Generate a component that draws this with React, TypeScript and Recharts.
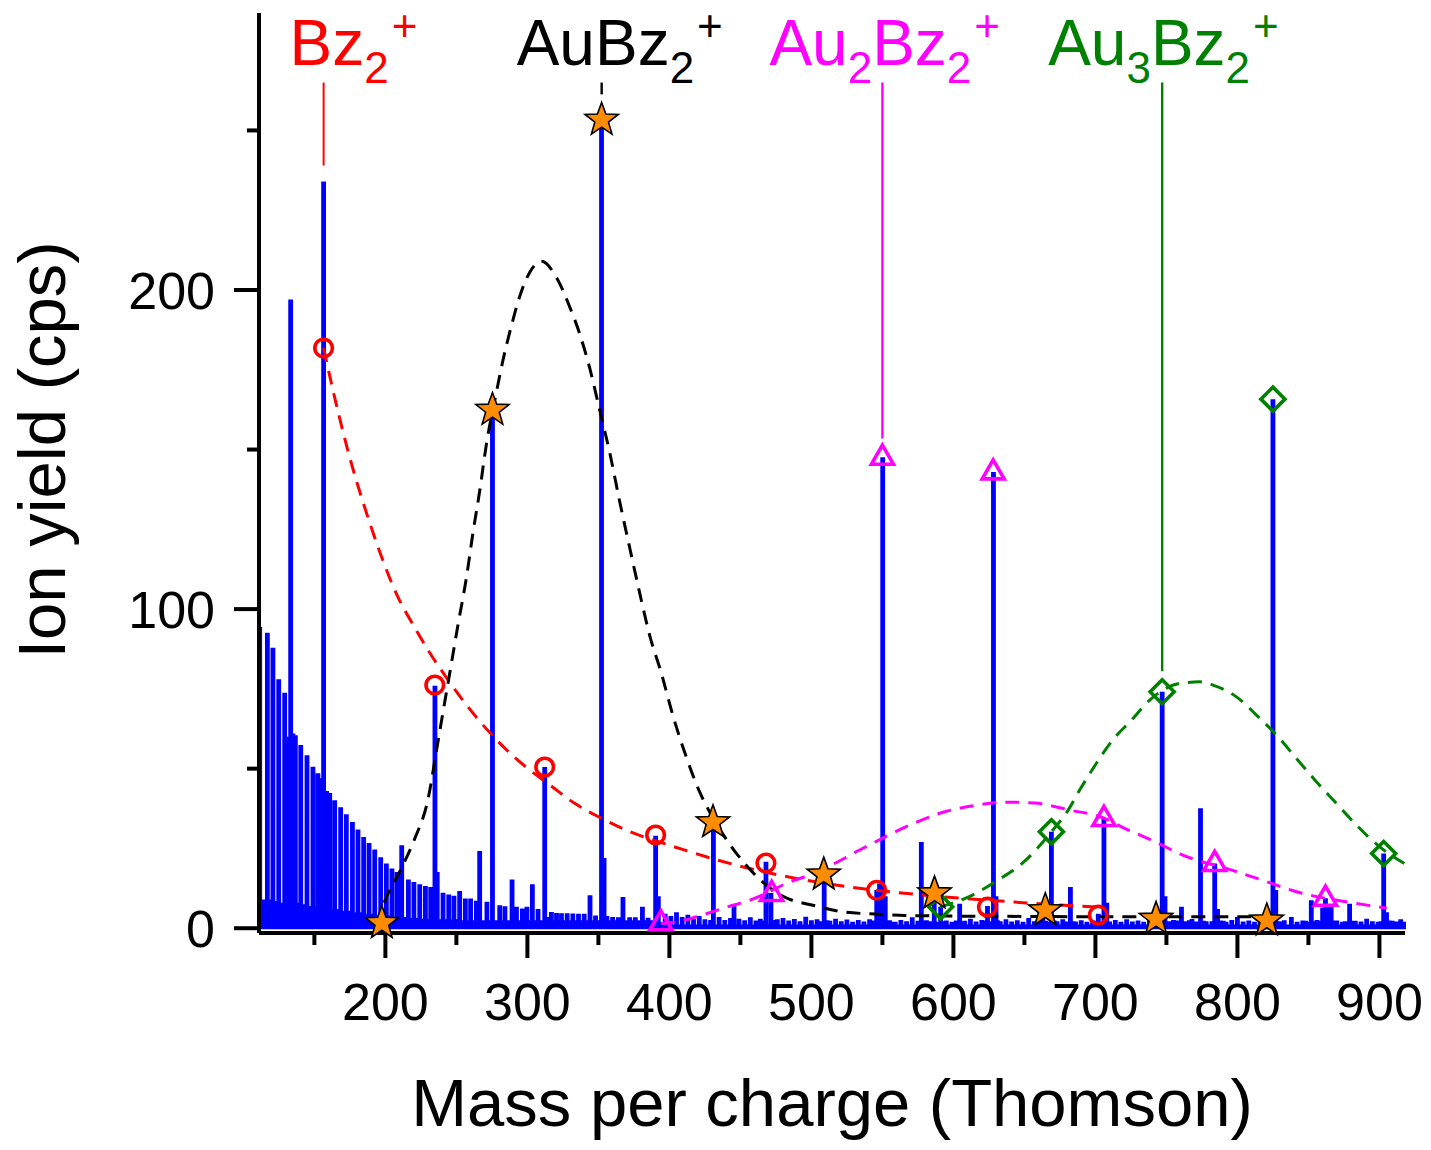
import React from 'react'
import { ComposedChart, Line, Scatter, XAxis, YAxis } from 'recharts'

const FONT = '"Liberation Sans", Arial, Helvetica, sans-serif'
const BLUE = '#0000ff'
const RED = '#ff0000'
const MAGENTA = '#ff00ff'
const GREEN = '#008000'
const ORANGE = '#ff8c00'

const xDomain: [number, number] = [111, 918]
const yDomain: [number, number] = [-1.5, 286.8]
const xTicks = [150, 200, 250, 300, 350, 400, 450, 500, 550, 600, 650, 700, 750, 800, 850, 900]
const yTicks = [0, 50, 100, 150, 200, 250]

// spectrum, picked peaks as [m/z, counts]
const combPeaks = [
  [111.5, 94.4], [116.9, 92.6], [120.8, 87.9], [124.9, 78], [129.1, 73.8], [133.3, 197],
  [136.6, 60.5], [140.4, 57.4], [144.8, 54.2], [149, 50.6], [152.5, 48.6], [156.5, 234],
  [160.8, 42.4], [164.3, 40.1], [168.5, 37.9], [172.5, 35.7], [176.8, 33.3], [180.7, 30.9],
  [184.7, 28.6], [188.5, 26.7], [192.5, 24.7], [196.7, 22.2], [200.7, 20.3], [204.6, 18.7],
  [208.2, 17.6], [211.5, 26], [216.2, 15.3], [220.1, 14.5], [224.2, 13.8], [228.2, 13.2],
  [231.9, 12.9], [234.9, 76], [240.6, 11.1], [244.6, 10.6], [248.3, 10.2], [252.3, 11.7],
  [256.3, 9.3], [260, 9.3], [264.1, 8.6], [266.4, 24.2], [271.5, 8.3], [275.4, 162.4],
  [280.5, 7.2], [284.2, 6.9], [289.2, 15.3], [292.3, 6.7], [296.5, 6.2], [299.7, 6.7],
  [303.5, 13.8], [307.5, 6], [312.2, 50.5], [316.9, 5.1], [320.5, 4.8], [324, 4.7],
  [328, 4.7], [332, 4.6], [336, 4.5], [340, 4.5], [344.1, 10.3], [348, 4], [352.2, 253],
  [356, 3.8], [360, 3.5], [364, 3.4], [367.3, 9.8], [372, 3.4], [376, 3.4], [381, 6.7],
  [385, 3.3], [390.3, 29],
]

const shoulderPeaks = [
  [114.2, 9], [118.9, 9], [122.9, 8.5], [127, 8], [131.2, 60], [134.9, 61], [138.5, 8],
  [142.6, 7.5], [146.9, 7], [150.8, 7], [154.5, 47], [158.6, 43], [162.6, 6], [166.4, 6],
  [170.5, 5.5], [174.6, 5.5], [178.8, 5], [182.7, 5], [186.6, 4.5], [190.5, 4.5], [194.6, 4],
  [198.7, 4], [202.6, 4], [206.4, 3.5], [210, 3.5], [214, 3.5], [218.2, 3.2], [222.1, 3.2],
  [226.2, 3], [230, 3], [236.5, 17.6], [238.6, 2.8], [242.6, 2.8], [246.5, 2.8], [250.3, 2.8],
  [254.3, 2.5], [258.2, 2.5], [262, 2.5], [268.6, 2.5], [273.5, 2.5], [278.5, 2.5],
  [282.4, 2.5], [286.7, 2.5], [290.8, 2.5], [294.4, 2.5], [298, 2.5], [301.6, 2.5],
  [305.5, 2.5], [310, 2.5], [314.5, 3.5], [318.7, 2.5], [322.2, 2.5], [326, 2.5], [330, 2.5],
  [334, 2.5], [338, 2.5], [342, 2.5], [346, 2.5], [350, 2.5], [354, 22], [358, 2.5],
  [362, 2.5], [365.6, 2.5], [369.6, 2.5], [374, 2.5], [378.7, 2.5], [383, 2.5], [387.6, 2.5],
  [392.2, 10],
]

const clusterPeaks = [
  [394, 1.9], [431, 33.5], [445.5, 7.2], [468, 20.8], [471.5, 11], [509, 16.5], [546, 12],
  [548, 14], [550.2, 147.6], [552, 10], [577.4, 27], [586.5, 11], [591, 6.7], [604.4, 7.7],
  [624, 7], [628.2, 143], [630, 10], [663, 5.5], [669, 30.2], [682.4, 12.9], [702, 4.5],
  [706, 34.4], [708, 8], [743, 3], [747, 74.1], [749, 10], [760.6, 6.7], [774, 37.6],
  [784, 20.3], [786, 6], [821, 2.8], [825, 165.8], [827, 12], [852, 8.8], [860, 6.5],
  [862, 9.4], [864, 7], [879, 7.7], [903, 23.4], [905, 5],
]

const noisePeaks = [
  [397, 4.5], [401, 3.8], [405, 5], [409, 3.5], [413, 4.2], [417, 3], [421, 3.8], [425, 2.8],
  [429, 2.6], [435, 3.5], [439, 2.6], [443, 3.2], [449, 3], [453, 2.5], [457, 3.4], [461, 2.4],
  [464, 3], [466, 2.4], [474, 2.6], [476, 2.8], [480, 3.2], [484, 2.4], [488, 2.9], [492, 2.2],
  [496, 3.6], [500, 2.5], [504, 2.8], [507, 2.2], [511, 2.5], [513, 2.3], [517, 3], [521, 2.2],
  [525, 2.7], [529, 2], [533, 2.6], [537, 2.1], [541, 2.8], [544, 2.4], [555, 2.5], [557, 2],
  [559, 2], [563, 2.6], [567, 2.2], [571, 3.4], [575, 2.3], [579, 2.4], [581, 2.5], [584, 2.2],
  [589, 2], [593, 2.2], [595, 2.4], [599, 2], [602, 2.4], [606, 2.1], [608, 2.3], [612, 3],
  [616, 2.1], [620, 2.6], [622, 2.4], [626, 2.2], [631, 2.5], [633, 2.2], [637, 2.8],
  [641, 2.1], [645, 2.5], [649, 2], [653, 3.2], [657, 2.2], [660, 2.6], [665, 2.3], [667, 2],
  [671, 2.4], [673, 2.2], [677, 2.8], [680, 2.1], [684, 2.2], [686, 2.1], [690, 2.5], [694, 2],
  [698, 2.4], [700, 2.3], [704, 2.1], [710, 2.1], [714, 2.6], [718, 2], [722, 2.8], [726, 2.1],
  [730, 2.4], [734, 2], [738, 2.6], [741, 2.4], [745, 2.2], [751, 2.2], [753, 2.2], [755, 2.6],
  [758, 2.4], [762, 2.2], [764, 2.1], [766, 2.5], [768, 2.9], [771, 2.1], [776, 2.3],
  [778, 2.2], [782, 2.2], [788, 2.4], [790, 2.3], [792, 2], [796, 2.6], [800, 3.5], [804, 2.1],
  [808, 2.4], [812, 2], [816, 2.5], [818, 2.2], [823, 2.4], [829, 2.2], [831, 2.1], [833, 2.5],
  [838, 3.5], [842, 2], [846, 2.4], [848, 2.3], [850, 2], [854, 2.2], [856, 2.6], [858, 2.3],
  [866, 7], [868, 2.4], [870, 2.4], [874, 2], [876, 2.2], [881, 2.3], [883, 2.3], [887, 2.1],
  [891, 3], [895, 2.2], [899, 2], [901, 2.2], [907, 2.4], [909, 2.3], [911, 2.1], [913, 2.1],
  [915, 2.8], [917, 2],
]

// assigned peaks (markers)
const bzSeries = [
  [156.5, 181.8], [234.8, 76.2], [312.2, 50.5], [390.3, 29.2], [468, 20.4], [546, 11.9],
  [624, 6.6], [702, 4.1],
]
const auBzSeries = [
  [197.5, 1.6], [275.4, 162.4], [352.3, 253.3], [430.7, 33.2], [508.7, 16.8], [586.7, 10.9],
  [664.7, 5.6], [742.7, 2.9], [820.7, 2.4],
]
const au2BzSeries = [
  [394, 1.7], [472, 10.9], [550, 147.6], [628, 143], [706, 34.4], [784, 20.3], [862, 9.4],
]
const au3BzSeries = [[591, 6.7], [669, 30.2], [747, 74.1], [825, 165.8], [903, 23.4]]

// fitted envelopes
const bzFit = [
  [156.5, 181.8], [162.9, 169], [172.8, 151], [189, 127], [208.6, 104], [221.6, 93.5],
  [231, 86.5], [243, 78.5], [256.5, 70.3], [273.5, 61.3], [285, 56], [299, 50.5],
  [317, 44.5], [333, 39.2], [352, 34.5], [373.5, 30], [396.7, 26.5], [412, 24.3],
  [432, 21.6], [452, 19.2], [480, 16.4], [516, 13.6], [560, 11.2], [608, 9.3], [643, 8.2],
  [666, 7.5], [702, 6.6],
]
const auBzFit = [
  [199, 8], [201, 10], [211.5, 19], [220.6, 28], [229.8, 40], [236.1, 56], [240.6, 67.8],
  [246.5, 83], [251.1, 95], [257, 109.7], [261.7, 124], [266.4, 137], [271.1, 151.6],
  [278.2, 168], [282.8, 178], [288.7, 188.7], [294.6, 198], [301.6, 205.5], [309.9, 209],
  [320.4, 204], [329.8, 194.7], [336.8, 186.3], [343.9, 175.5], [350.9, 162.4], [358, 149],
  [365, 133.7], [372, 119.3], [379.1, 105], [386.1, 91.8], [394.4, 79.8], [402.5, 66.6],
  [412, 53.5], [421.3, 42.7], [429.6, 35.4], [435.5, 31], [448, 23], [462, 16], [480, 10],
  [503, 7], [524, 5], [548, 4.4], [566, 4], [600, 3.8], [650, 3.7], [700, 3.6], [760, 3.6],
  [822, 3.6],
]
const au2BzFit = [
  [394, 1.5], [405.9, 2], [419.2, 3.6], [440.4, 6.6], [458.7, 9.1], [470.6, 11.5],
  [482, 14], [497.4, 16.5], [515, 20], [534, 24.5], [571.3, 32.7], [593.9, 36.5],
  [611.5, 38.2], [636.8, 39.5], [657.3, 39.2], [681.9, 37], [703, 35], [722, 31],
  [742.5, 27], [759.4, 23.3], [796, 18.2], [817.9, 15], [841.1, 11.5], [883.4, 7.8],
  [905.2, 6.3],
]
const au3BzFit = [
  [590.4, 6.6], [611.5, 10], [631.2, 15], [650.2, 21], [663, 27], [669, 30.2], [680.8, 37],
  [688.9, 43.3], [700.7, 51.7], [712.2, 59], [725.4, 65.2], [738.2, 71.5], [759.4, 76.7],
  [773.5, 77.2], [782.7, 76.2], [799.3, 72.5], [813.4, 66.8], [828.6, 60], [841.5, 53.2],
  [855.6, 45.9], [869.7, 39.1], [883.8, 32.3], [900.2, 25.5], [917.5, 20.3],
]

// series labels at the top, with the guide line down to the peak
const tags = [
  { id: 'Bz', mz: 156.5, top: 265, bottom: 239, color: RED, parts: [['Bz', 'n'], ['2', 'sub'], ['+', 'sup']] },
  { id: 'AuBz', mz: 352.3, top: 265, bottom: 261.3, color: '#000', parts: [['AuBz', 'n'], ['2', 'sub'], ['+', 'sup']] },
  { id: 'Au2Bz', mz: 550, top: 265, bottom: 153.5, color: MAGENTA, parts: [['Au', 'n'], ['2', 'sub'], ['Bz', 'n'], ['2', 'sub'], ['+', 'sup']] },
  { id: 'Au3Bz', mz: 747, top: 265, bottom: 80.5, color: GREEN, parts: [['Au', 'n'], ['3', 'sub'], ['Bz', 'n'], ['2', 'sub'], ['+', 'sup']] },
]
const tagDx: Record<string, number> = { Bz: -34, AuBz: -85, Au2Bz: -113, Au3Bz: -114 }

const FLOOR = 0.4
const toPoints = (arr: number[][]) => arr.map(([mz, y]) => ({ mz, y }))

const spectrum = [
  { mz: xDomain[0], y: FLOOR },
  ...[...combPeaks, ...shoulderPeaks, ...clusterPeaks, ...noisePeaks]
    .sort((a, b) => a[0] - b[0])
    .flatMap(([mz, h]) => [{ mz, y: FLOOR }, { mz, y: h }, { mz, y: FLOOR }]),
  { mz: xDomain[1], y: FLOOR },
]

const Ring = (p: any) =>
  p.cx == null ? <g /> : <circle cx={p.cx} cy={p.cy} r={8.8} fill="none" stroke={RED} strokeWidth={3.6} />

const StarMark = (p: any) => {
  if (p.cx == null) return <g />
  const pts: string[] = []
  for (let i = 0; i < 10; i++) {
    const r = i % 2 === 0 ? 17.5 : 7.2
    const a = -Math.PI / 2 + (i * Math.PI) / 5
    pts.push(`${p.cx + r * Math.cos(a)},${p.cy + r * Math.sin(a)}`)
  }
  return <polygon points={pts.join(' ')} fill={ORANGE} stroke="#000" strokeWidth={1.6} />
}

const Tri = (p: any) =>
  p.cx == null ? <g /> : (
    <polygon
      points={`${p.cx},${p.cy - 12} ${p.cx + 11},${p.cy + 7} ${p.cx - 11},${p.cy + 7}`}
      fill="none" stroke={MAGENTA} strokeWidth={3.6}
    />
  )

const Diamond = (p: any) =>
  p.cx == null ? <g /> : (
    <polygon
      points={`${p.cx},${p.cy - 12} ${p.cx + 12},${p.cy} ${p.cx},${p.cy + 12} ${p.cx - 12},${p.cy}`}
      fill="none" stroke={GREEN} strokeWidth={3.6}
    />
  )

function IonTag({ x, y, parts, color }: { x: number; y: number; parts: string[][]; color: string }) {
  let level = 0
  return (
    <text x={x} y={y} fill={color} fontFamily={FONT} fontSize={64}>
      {parts.map(([t, kind], i) => {
        const target = kind === 'sub' ? 18 : kind === 'sup' ? -24 : 0
        const dy = target - level
        level = target
        return (
          <tspan key={i} dy={dy} dx={kind === 'sup' ? 3 : 0} fontSize={kind === 'n' ? 64 : 44}>
            {t}
          </tspan>
        )
      })}
    </text>
  )
}

const XTick = (props: any) => {
  const { x, y, payload } = props
  const v = payload.value
  const major = v % 100 === 0
  return (
    <g>
      <line x1={x} x2={x} y1={y} y2={y + (major ? 25 : 12)} stroke="#000" strokeWidth={4} />
      {major && (
        <text x={x} y={y + 87} textAnchor="middle" fontSize={52} fontFamily={FONT} fill="#000">
          {v}
        </text>
      )}
    </g>
  )
}

const YTick = (props: any) => {
  const { x, y, payload } = props
  const v = payload.value
  const major = v % 100 === 0
  return (
    <g>
      <line x1={x} x2={x - (major ? 25 : 12)} y1={y} y2={y} stroke="#000" strokeWidth={4} />
      {major && (
        <text x={x - 44} y={y + 19} textAnchor="end" fontSize={52} fontFamily={FONT} fill="#000">
          {v}
        </text>
      )}
    </g>
  )
}

const fitStyle = { strokeWidth: 3, strokeDasharray: '14 9' }

export default function App() {
  return (
    <div style={{ width: 1423, height: 1142, marginTop: -8, marginLeft: -8 }}>
      <ComposedChart
        width={1423}
        height={1142}
        margin={{ top: 13, right: 18, left: 0, bottom: 0 }}
        style={{ fontFamily: FONT }}
      >
        <XAxis
          type="number"
          dataKey="mz"
          domain={xDomain}
          ticks={xTicks}
          interval={0}
          height={209}
          tickSize={0}
          tickMargin={0}
          tickLine={false}
          axisLine={{ stroke: '#000', strokeWidth: 4 }}
          tick={XTick}
          label={{
            value: 'Mass per charge (Thomson)',
            position: 'insideBottom',
            offset: 16,
            fill: '#000',
            style: { fontSize: 67, fontFamily: FONT, fill: '#000' },
          }}
        />
        <YAxis
          type="number"
          domain={yDomain}
          ticks={yTicks}
          interval={0}
          width={259}
          tickSize={0}
          tickMargin={0}
          tickLine={false}
          axisLine={{ stroke: '#000', strokeWidth: 4 }}
          tick={YTick}
          label={{
            value: 'Ion yield (cps)',
            angle: -90,
            position: 'insideLeft',
            offset: 41,
            dy: -23,
            fill: '#000',
            style: { fontSize: 67, fontFamily: FONT, fill: '#000', textAnchor: 'middle' },
          }}
        />

        <Line
          data={spectrum}
          dataKey="y"
          type="linear"
          stroke={BLUE}
          strokeWidth={4.8}
          dot={false}
          activeDot={false}
          isAnimationActive={false}
        />

        <Line data={toPoints(bzFit)} dataKey="y" type="monotone" stroke={RED} {...fitStyle} dot={false} activeDot={false} isAnimationActive={false} />
        <Line data={toPoints(auBzFit)} dataKey="y" type="monotone" stroke="#000" {...fitStyle} dot={false} activeDot={false} isAnimationActive={false} />
        <Line data={toPoints(au2BzFit)} dataKey="y" type="monotone" stroke={MAGENTA} {...fitStyle} dot={false} activeDot={false} isAnimationActive={false} />
        <Line data={toPoints(au3BzFit)} dataKey="y" type="monotone" stroke={GREEN} {...fitStyle} dot={false} activeDot={false} isAnimationActive={false} />

        {tags.map((t) => (
          <Line
            key={t.id}
            data={[{ mz: t.mz, y: t.top }, { mz: t.mz, y: t.bottom }]}
            dataKey="y"
            type="linear"
            stroke={t.color}
            strokeWidth={t.id === 'Bz' ? 2 : 2.4}
            strokeDasharray={t.id === 'AuBz' ? '12 8' : undefined}
            activeDot={false}
            isAnimationActive={false}
            dot={(p: any) =>
              p.index === 0 ? (
                <IonTag key={`${t.id}-tag`} x={p.cx + tagDx[t.id]} y={p.cy - 18} parts={t.parts} color={t.color} />
              ) : (
                <g key={`${t.id}-end`} />
              )
            }
          />
        ))}

        <Scatter data={toPoints(bzSeries)} dataKey="y" shape={Ring} isAnimationActive={false} />
        <Scatter data={toPoints(au2BzSeries)} dataKey="y" shape={Tri} isAnimationActive={false} />
        <Scatter data={toPoints(au3BzSeries)} dataKey="y" shape={Diamond} isAnimationActive={false} />
        <Scatter data={toPoints(auBzSeries)} dataKey="y" shape={StarMark} isAnimationActive={false} />
      </ComposedChart>
    </div>
  )
}
